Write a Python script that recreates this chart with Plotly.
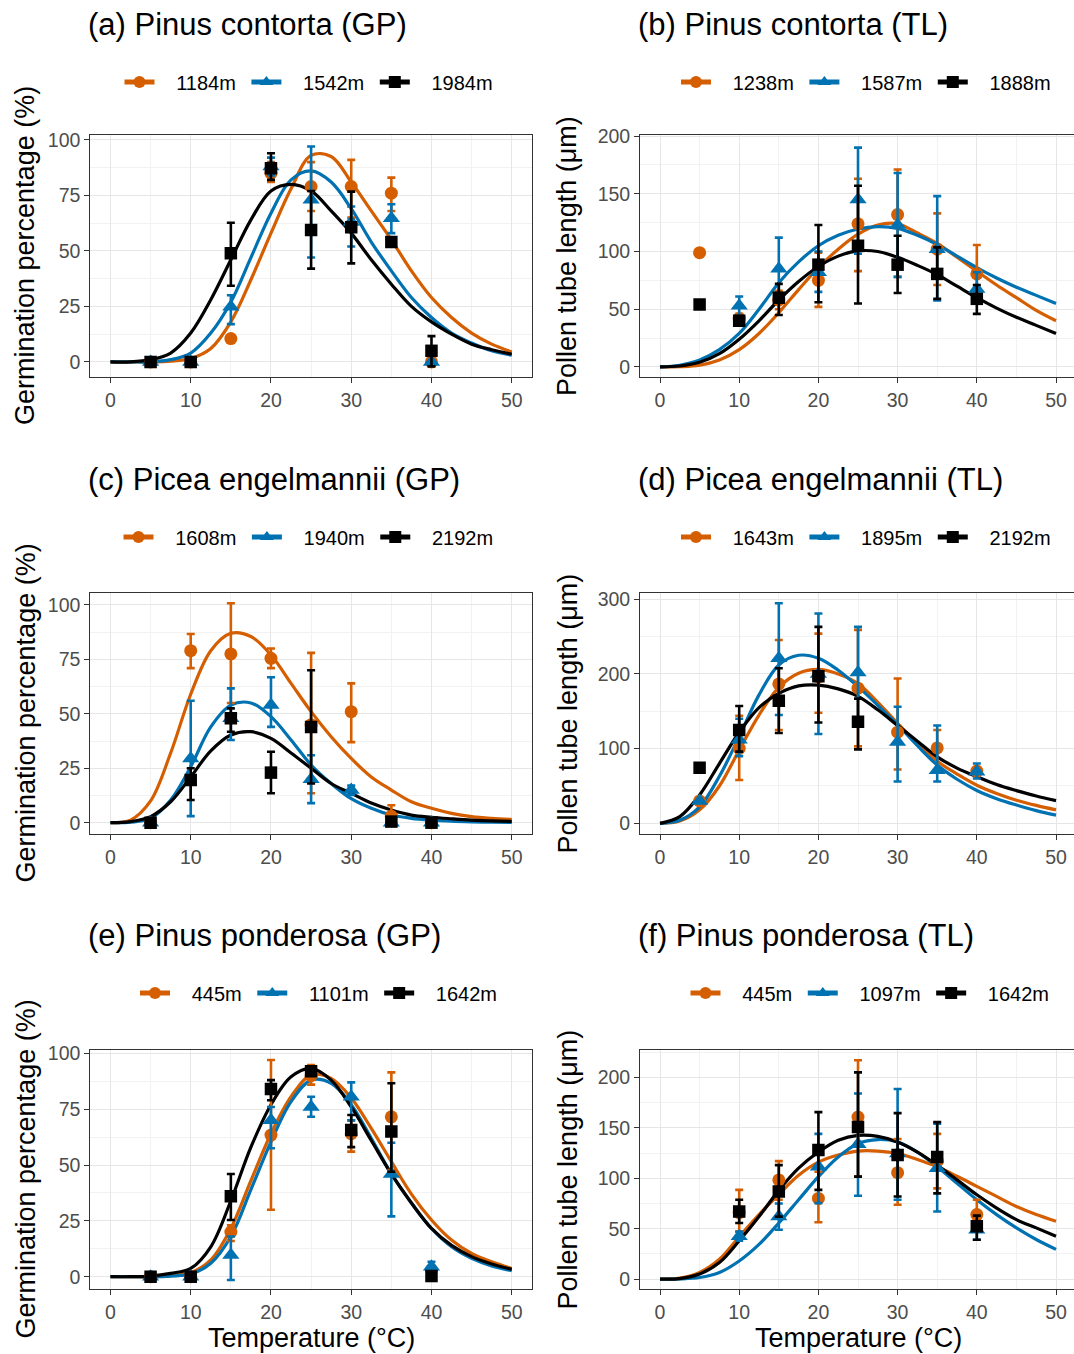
import plotly.graph_objects as go

W, H = 1074, 1354

# ---------------- data ----------------
temps = [5, 10, 15, 20, 25, 30, 35, 40]
curve_t = [0, 2.5, 5, 7.5, 10, 12.5, 15, 17.5, 20, 22.5, 25, 27.5, 30, 32.5, 35, 37.5, 40, 42.5, 45, 47.5, 50]

# (a) Pinus contorta (GP)
a_labels = ["1184m", "1542m", "1984m"]
a_mean_o = [0, 0, 10.5, 85, 79, 79, 76, 0]
a_lo_o = [0, 0, 9, 81, 68, 65, 68, 0]
a_hi_o = [0, 0, 12, 90, 90, 91, 83, 0]
a_mean_b = [0, 0, 24.8, 88, 73, 63, 64.7, 0]
a_lo_b = [0, 0, 17, 84, 47, 52, 58, 0]
a_hi_b = [0, 0, 30, 92, 97, 70, 71, 0]
a_mean_k = [0, 0, 48.9, 87.2, 59.4, 60.6, 54, 5]
a_lo_k = [0, 0, 34.3, 82, 42, 44.4, 52, -2]
a_hi_k = [0, 0, 62.7, 94, 77, 76.7, 56, 11.6]
a_curve_o = [0, 0, 0, 0.3, 1.5, 6, 18, 37, 58, 78, 93, 92.5, 81, 68, 55, 41, 29, 20, 13, 8, 4.5]
a_curve_b = [0, 0, 0, 1, 4, 13, 27, 47, 67, 82, 86, 81, 69, 54, 41, 29, 20, 13, 8.5, 5, 3]
a_curve_k = [0, 0, 1, 4, 13, 28, 46, 64, 77, 80, 77, 68, 58, 46, 35, 25, 18, 12.5, 8, 5.5, 3.5]

# (b) Pinus contorta (TL)
b_labels = ["1238m", "1587m", "1888m"]
b_mean_o = [99, 42, 58, 75, 124, 132, 102, 80.6]
b_lo_o = [99, 38, 50, 52, 83, 78, 71, 55]
b_hi_o = [99, 46, 66, 99, 163, 171, 133, 105.6]
b_mean_b = [None, 53, 85, 82, 145, 123, 102, 67.6]
b_lo_b = [None, 43, 57.5, 65, 98, 78, 57.5, 56]
b_hi_b = [None, 61, 112, 100, 190, 168, 148, 82]
b_mean_k = [54, 40, 60, 88.6, 105, 88.6, 80.6, 59]
b_lo_k = [54, 36, 45, 56, 55, 64, 59, 46]
b_hi_k = [54, 44, 72, 123, 157, 113.7, 103.6, 71]
b_curve_o = [0, 0.2, 1.5, 6, 15, 29, 47, 67, 86, 102, 115, 123, 124, 116, 107, 95, 83, 71, 60, 49, 40]
b_curve_b = [0, 1.5, 6, 15, 29, 50, 73, 91, 105, 114, 119.5, 121.5, 120, 114, 106, 96, 86, 77, 69, 62, 55]
b_curve_k = [0, 0.8, 4, 11.5, 24, 40, 58, 74, 87, 96, 100.5, 100, 95, 88, 80, 70, 60, 51, 43, 36, 29]

# (c) Picea engelmannii (GP)
c_labels = ["1608m", "1940m", "2192m"]
c_mean_o = [0, 79, 77.5, 75.5, 45, 51, 3, 0]
c_lo_o = [0, 71, 55, 71, 13.5, 37, 0, 0]
c_hi_o = [0, 86.7, 100.8, 80, 78, 64, 8, 0]
c_mean_b = [0, 29.5, 48, 54, 20, 15, 0, 0]
c_lo_b = [0, 3, 38, 44, 9, 12.7, 0, 0]
c_hi_b = [0, 56, 61.7, 66.8, 31, 17, 0, 0]
c_mean_k = [0, 19.6, 48, 23, 44, None, 0.5, 0]
c_lo_k = [0, 10.4, 41.8, 13.5, 18, None, 0, 0]
c_hi_k = [0, 25, 52.5, 32.6, 70, None, 1, 0]
c_curve_o = [0, 1.2, 10, 32, 59, 79, 87, 85.5, 77, 64, 51, 39.5, 29.5, 21, 15, 9.6, 6.6, 4.3, 2.8, 2, 1.5]
c_curve_b = [0, 0.2, 2, 10.4, 25.7, 44, 54, 55, 48.7, 38, 26.5, 18, 11, 6.6, 3.5, 2, 1.2, 0.7, 0.4, 0.2, 0.1]
c_curve_k = [0, 0.5, 2.8, 9.6, 21, 33, 40.3, 41.8, 38.7, 32, 25, 18, 13.5, 9, 5.8, 3.5, 2.5, 1.8, 1.2, 0.8, 0.6]

# (d) Picea engelmannii (TL)
d_labels = ["1643m", "1895m", "2192m"]
d_mean_o = [30, 100.4, 186.6, 196, 181, 122, 101, 70]
d_lo_o = [30, 58, 125, 148, 103, 72, 71, 65]
d_hi_o = [30, 144, 245.5, 254, 259, 194, 125, 75]
d_mean_b = [30, 112, 221, 200, 201.8, 109, 71, 69]
d_lo_b = [30, 90, 145, 119.6, 134, 56, 56, 60]
d_hi_b = [30, 140, 294.6, 281, 263, 156, 131, 80]
d_mean_k = [74.5, 125, 164, 197, 136, None, None, None]
d_lo_k = [74.5, 96, 121, 135, 99, None, None, None]
d_hi_k = [74.5, 157, 207.6, 263, 167, None, None, None]
d_curve_o = [0, 3, 18, 50, 98, 145, 182, 201, 206, 200, 187, 162, 134, 107, 83, 66, 51, 40, 31, 24, 18]
d_curve_b = [0, 4, 22, 63, 116, 172, 212, 225, 221, 205, 183, 158, 132, 104, 78, 59, 44, 33, 24.5, 17, 11]
d_curve_k = [0, 9, 38, 80, 122, 155, 174, 184, 185, 180, 170, 152, 131, 110, 89, 74, 62.5, 52, 43.8, 36.5, 30.4]

# (e) Pinus ponderosa (GP)
e_labels = ["445m", "1101m", "1642m"]
e_mean_o = [0, 0, 20, 63.4, 90, 64, 71.6, 3]
e_lo_o = [0, 0, 16, 30, 86, 56, 47.8, 2]
e_hi_o = [0, 0, 23, 97, 94.8, 70, 91.5, 4]
e_mean_b = [0, 0, 9.7, 70, 76, 80.6, 46, 4.5]
e_lo_b = [0, 0, -1.5, 57.5, 71.6, 70, 27, 2]
e_hi_b = [0, 0, 18, 76, 80.6, 87, 60, 6.7]
e_mean_k = [0, 0, 36, 84, 92, 65.7, 65, 0.3]
e_lo_k = [0, 0, 25.4, 79, 90, 58, 47, 0]
e_hi_k = [0, 0, 46, 88, 94, 72.4, 86.6, 1]
e_curve_o = [0, 0, 0, 0.5, 1.8, 7.5, 21.6, 43, 64, 80.6, 90.3, 88.8, 80, 66.4, 51.5, 37, 25.4, 16.4, 10.4, 6.7, 3.7]
e_curve_b = [0, 0, 0, 0.3, 1.2, 6, 18, 39, 60.4, 78.4, 88, 86.6, 77, 62, 46, 33, 21.6, 13.4, 8.2, 4.8, 2.7]
e_curve_k = [0, 0, 0.3, 1.5, 3.7, 13.4, 34, 58, 77, 89.5, 93.3, 88, 76, 61, 46, 33, 21.6, 14, 9, 5.7, 3.3]

# (f) Pinus ponderosa (TL)
f_labels = ["445m", "1097m", "1642m"]
f_mean_o = [None, 66, 98.4, 80, 160.7, 105.6, 117, 64]
f_lo_o = [None, 47.5, 78.7, 56.4, 101.6, 73.8, 90, 47.5]
f_hi_o = [None, 88.5, 117, 106.5, 217, 139, 144, 78.7]
f_mean_b = [None, 42.6, 62, 111.5, 133.8, 124.6, 110, 49]
f_lo_b = [None, 38, 49, 75.4, 82.6, 78.7, 67, 39]
f_hi_b = [None, 47, 75, 144, 184, 188.5, 154, 57]
f_mean_k = [None, 67, 87, 128, 150.8, 123, 121, 52.5]
f_lo_k = [None, 55.7, 62, 88.5, 101.6, 82, 85, 39]
f_hi_k = [None, 78.7, 113, 165.6, 205, 164.6, 155.7, 63]
f_curve_o = [0, 1, 6.6, 19.7, 42, 64, 84, 103, 116, 123, 127, 127, 124.6, 118.7, 111.5, 102, 92, 82, 72, 64, 57.4]
f_curve_b = [0, 0.2, 1.6, 6.6, 18, 34.4, 55.7, 78.7, 101.6, 121, 134.4, 138.4, 136, 126, 111.5, 95, 78.7, 64, 50.8, 39.3, 29.5]
f_curve_k = [0, 0.5, 5, 16.4, 38, 62, 88, 110, 126, 137.7, 142.6, 141.6, 136, 126, 113, 98.4, 83.6, 70.5, 59, 50.8, 42.6]

titles = ["(a) Pinus contorta (GP)", "(b) Pinus contorta (TL)",
          "(c) Picea engelmannii (GP)", "(d) Picea engelmannii (TL)",
          "(e) Pinus ponderosa (GP)", "(f) Pinus ponderosa (TL)"]
y_title_gp = "Germination percentage (%)"
y_title_tl = "Pollen tube length (μm)"
x_title = "Temperature (°C)"

# ---------------- styling / layout ----------------
FONT = "Liberation Sans, Arial, Helvetica, sans-serif"
COLORS = ["#D55E00", "#0072B2", "#000000"]
SYMBOLS = ["circle", "triangle-up", "square"]
MSIZES = [13, 15, 12.5]
LEAD = "\u00a0\u00a0\u00a0"
TRAIL = "\u00a0"

col_px = [(90.4, 531.8), (640.2, 1074.0)]
row_px = [(135, 377), (593, 834), (1050, 1289)]
title_y = [25, 479, 935]
legend_y = [82, 537, 993]
legend_xs = [311.5, 869, 311.5, 869, 321.5, 873]
col_xrange = [[-2.5, 52.5], [-2.5, 52.27]]

yranges = [[-6.8, 102.2], [-8.7, 200.9], [-5.2, 105.5], [-14.3, 308.4], [-5.5, 101.5], [-9.8, 227.2]]
ydticks = [25, 50, 25, 100, 25, 50]

panels = [
    (a_labels, [(a_mean_o, a_lo_o, a_hi_o, a_curve_o), (a_mean_b, a_lo_b, a_hi_b, a_curve_b), (a_mean_k, a_lo_k, a_hi_k, a_curve_k)]),
    (b_labels, [(b_mean_o, b_lo_o, b_hi_o, b_curve_o), (b_mean_b, b_lo_b, b_hi_b, b_curve_b), (b_mean_k, b_lo_k, b_hi_k, b_curve_k)]),
    (c_labels, [(c_mean_o, c_lo_o, c_hi_o, c_curve_o), (c_mean_b, c_lo_b, c_hi_b, c_curve_b), (c_mean_k, c_lo_k, c_hi_k, c_curve_k)]),
    (d_labels, [(d_mean_o, d_lo_o, d_hi_o, d_curve_o), (d_mean_b, d_lo_b, d_hi_b, d_curve_b), (d_mean_k, d_lo_k, d_hi_k, d_curve_k)]),
    (e_labels, [(e_mean_o, e_lo_o, e_hi_o, e_curve_o), (e_mean_b, e_lo_b, e_hi_b, e_curve_b), (e_mean_k, e_lo_k, e_hi_k, e_curve_k)]),
    (f_labels, [(f_mean_o, f_lo_o, f_hi_o, f_curve_o), (f_mean_b, f_lo_b, f_hi_b, f_curve_b), (f_mean_k, f_lo_k, f_hi_k, f_curve_k)]),
]


def px_x(v):
    return v / W


def px_y(v):
    return 1 - v / H


fig = go.Figure()
annotations = []
layout = dict(
    template="none",
    width=W, height=H, margin=dict(l=0, r=0, t=0, b=0, pad=0, autoexpand=False),
    paper_bgcolor="white", plot_bgcolor="white",
    font=dict(family=FONT, color="black"),
    showlegend=True,
)

for p, (labels, series) in enumerate(panels):
    row, col = divmod(p, 2)
    idx = p + 1
    xa = "x" if idx == 1 else f"x{idx}"
    ya = "y" if idx == 1 else f"y{idx}"
    lg = "legend" if idx == 1 else f"legend{idx}"

    # fitted curves
    for s, (mean, lo, hi, curve) in enumerate(series):
        fig.add_trace(go.Scatter(
            x=curve_t, y=curve, mode="lines", line=dict(color=COLORS[s], width=3.2, shape="spline", smoothing=1.0),
            xaxis=xa, yaxis=ya, showlegend=False, hoverinfo="skip"))
    # points with error bars
    for s, (mean, lo, hi, curve) in enumerate(series):
        up = [None if m is None else h - m for m, h in zip(mean, hi)]
        dn = [None if m is None else m - l for m, l in zip(mean, lo)]
        fig.add_trace(go.Scatter(
            x=temps, y=mean, mode="markers",
            marker=dict(color=COLORS[s], symbol=SYMBOLS[s], size=MSIZES[s], line=dict(width=0)),
            error_y=dict(type="data", symmetric=False, array=up, arrayminus=dn,
                         color=COLORS[s], thickness=2.6, width=4),
            xaxis=xa, yaxis=ya, showlegend=False))
    # legend entries
    for s in range(3):
        fig.add_trace(go.Scatter(
            x=[None], y=[None], mode="lines+markers", name=LEAD + labels[s] + TRAIL,
            line=dict(color=COLORS[s], width=3.2),
            marker=dict(color=COLORS[s], symbol=SYMBOLS[s], size=MSIZES[s]),
            xaxis=xa, yaxis=ya, legend=lg, showlegend=True))

    layout[lg] = dict(
        orientation="h", x=px_x(legend_xs[p]), y=px_y(legend_y[row]),
        xref="container", yref="container",
        xanchor="center", yanchor="middle", bgcolor="rgba(0,0,0,0)",
        font=dict(family=FONT, size=20, color="black"),
        itemwidth=30, tracegroupgap=0, itemsizing="constant",
    )

    x0, x1 = col_px[col]
    y0, y1 = row_px[row]
    axkey_x = "xaxis" if idx == 1 else f"xaxis{idx}"
    axkey_y = "yaxis" if idx == 1 else f"yaxis{idx}"
    common = dict(
        showline=True, linecolor="#333333", linewidth=1.2,
        ticks="outside", ticklen=5, tickwidth=1.2, tickcolor="#333333",
        tickfont=dict(family=FONT, size=19.5, color="#4D4D4D"),
        showgrid=True, gridcolor="#E6E6E6", gridwidth=1.1,
        zeroline=False, fixedrange=True, automargin=False,
    )
    layout[axkey_x] = dict(
        common, domain=[px_x(x0), min(px_x(x1), 1.0)], range=col_xrange[col],
        tickmode="array", tickvals=[0, 10, 20, 30, 40, 50],
        minor=dict(tickvals=[5, 15, 25, 35, 45], showgrid=True, gridcolor="#F2F2F2", gridwidth=0.8),
        mirror=True, anchor=ya,
    )
    dt = ydticks[p]
    yt = [k * dt for k in range(0, int(yranges[p][1] // dt) + 1)]
    ym = [v + dt / 2 for v in yt if v + dt / 2 < yranges[p][1]]
    layout[axkey_y] = dict(
        common, domain=[px_y(y1), px_y(y0)], range=yranges[p],
        tickmode="array", tickvals=yt,
        minor=dict(tickvals=ym, showgrid=True, gridcolor="#F2F2F2", gridwidth=0.8),
        mirror=(col == 0), anchor=xa,
    )

    # panel title
    annotations.append(dict(
        text=titles[p], xref="paper", yref="paper", x=px_x(x0 - 4), y=px_y(title_y[row]),
        xanchor="left", yanchor="middle", showarrow=False,
        font=dict(family=FONT, size=31, color="black")))
    # y-axis title
    annotations.append(dict(
        text=y_title_gp if col == 0 else y_title_tl, xref="paper", yref="paper",
        x=px_x(25 if col == 0 else 567), y=px_y((y0 + y1) / 2),
        xanchor="center", yanchor="middle", textangle=-90, showarrow=False,
        font=dict(family=FONT, size=27, color="black")))
    if row == 2:
        annotations.append(dict(
            text=x_title, xref="paper", yref="paper",
            x=px_x((x0 + (x1 if col == 0 else 1075.8)) / 2), y=px_y(1338),
            xanchor="center", yanchor="middle", showarrow=False,
            font=dict(family=FONT, size=27, color="black")))

layout["annotations"] = annotations
fig.update_layout(**layout)
fig.write_html("out.html")
